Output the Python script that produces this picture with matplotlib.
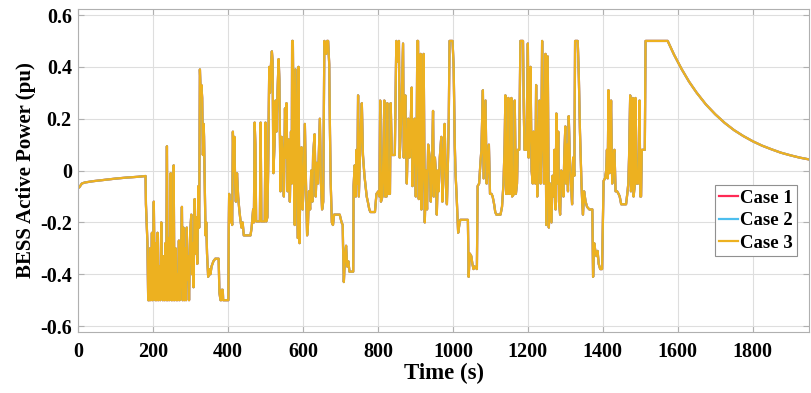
import matplotlib
matplotlib.use("Agg")
import matplotlib.pyplot as plt

# --------------------------------------------------
# Data (time in s, power in pu)
# --------------------------------------------------

# pre-event ramp
t_ramp = [0, 4, 10, 18, 40, 70, 100, 130, 160, 180]
p_ramp = [-0.068, -0.063, -0.05, -0.046, -0.041, -0.036, -0.031, -0.027, -0.024, -0.021]

# first window: battery saturated at the lower limit
t_low = [181, 183, 185, 187, 190, 192, 194, 197, 199, 202, 204, 206, 208, 210, 212, 214,
         217, 219, 222, 224, 226, 228, 230, 233, 235, 237, 239, 241, 243, 245, 247, 249,
         251, 253, 255, 257, 260, 262, 264, 266, 269, 271, 274, 277, 279, 281, 283, 286,
         288, 290, 292, 294, 296, 299, 302, 304, 306, 308, 311, 313, 315, 318, 321, 323,
         325, 327, 329, 331, 333, 335, 336, 338, 340, 342, 344, 347, 350, 353, 356, 361,
         366, 371, 375, 377, 380, 382, 383, 386, 387, 401]
p_low = [-0.13, -0.2, -0.28, -0.5, -0.5, -0.3, -0.5, -0.24, -0.5, -0.12, -0.4, -0.5, -0.28, -0.5, -0.24, -0.5,
         -0.37, -0.5, -0.2, -0.45, -0.5, -0.33, -0.5, -0.28, -0.5, 0.094, -0.5, -0.26, -0.5, -0.3, -0.01, -0.5,
         -0.34, -0.5, 0.02, -0.5, -0.3, -0.5, -0.4, -0.5, -0.27, -0.5, -0.35, -0.14, -0.5, -0.22, -0.5, -0.3,
         -0.5, -0.22, -0.42, -0.33, -0.5, -0.24, -0.17, -0.4, -0.28, -0.45, -0.11, -0.32, -0.18, -0.36, -0.06, -0.22,
         0.39, 0.3, 0.33, 0.28, 0.06, 0.18, 0.13, -0.05, -0.25, -0.2, -0.32, -0.41, -0.38, -0.4, -0.37, -0.35,
         -0.34, -0.34, -0.34, -0.47, -0.5, -0.5, -0.46, -0.46, -0.5, -0.5]

# fluctuating period
t_var = [402, 403, 405, 408, 411, 413, 415, 417, 419, 421, 424, 427, 430, 433, 436, 439,
         442, 460, 463, 467, 469, 471, 473, 475, 485, 487, 489, 498, 500, 502, 505, 507,
         510, 512, 515, 517, 519, 521, 524, 527, 529, 532, 535, 537, 540, 543, 546, 549,
         552, 554, 556, 559, 562, 565, 568, 570, 571, 573, 575, 578, 580, 583, 586, 588,
         591, 593, 596, 599, 602, 605, 608, 611, 613, 616, 619, 622, 625, 627, 631, 634,
         637, 640, 645, 648, 651, 654, 657, 662, 664, 667, 670, 672, 674, 677, 680, 683,
         698, 703, 706, 707, 709, 712, 715, 718, 721, 724, 734, 735, 738, 741, 743, 745,
         747, 749, 752, 755, 757, 760, 764, 767, 770, 773, 777, 780, 792, 796, 801, 804,
         806, 808, 812, 815, 817, 819, 823, 825, 827, 832, 834, 837, 845, 849, 852, 856,
         858, 862, 867, 869, 873, 875, 877, 881, 884, 886, 890, 892, 895, 898, 901, 903,
         905, 907, 909, 912, 914, 916, 919, 922, 925, 928, 931, 934, 938, 941, 944, 947,
         949, 952, 955, 957, 960, 962, 965, 969, 972, 975, 978, 981, 984, 987, 989, 991,
         999, 1002, 1005, 1007, 1010, 1014, 1018, 1020, 1040, 1042, 1045, 1049, 1052, 1055, 1058, 1064,
         1066, 1070, 1073, 1076, 1080, 1082, 1085, 1087, 1090, 1093, 1096, 1099, 1103, 1106, 1110, 1113,
         1116, 1127, 1131, 1135, 1138, 1140, 1142, 1145, 1148, 1150, 1154, 1156, 1158, 1163, 1165, 1168,
         1171, 1173, 1177, 1180, 1187, 1189, 1191, 1196, 1200, 1202, 1205, 1207, 1210, 1213, 1215, 1218,
         1220, 1222, 1225, 1228, 1231, 1234, 1236, 1238, 1240, 1243, 1245, 1247, 1249, 1251, 1253, 1256,
         1259, 1263, 1266, 1269, 1271, 1274, 1276, 1279, 1281, 1283, 1286, 1289, 1292, 1295, 1297, 1300,
         1302, 1305, 1307, 1309, 1312, 1315, 1318, 1321, 1324, 1326, 1333, 1336, 1339, 1343, 1345, 1347,
         1350, 1354, 1358, 1364, 1372, 1374, 1377, 1380, 1383, 1386, 1389, 1393, 1398, 1402, 1406, 1409,
         1411, 1413, 1415, 1418, 1420, 1422, 1425, 1428, 1431, 1434, 1438, 1442, 1445, 1449, 1462, 1466,
         1468, 1470, 1473, 1475, 1478, 1480, 1482, 1485, 1487, 1489, 1494, 1498, 1500, 1502, 1504, 1512]
p_var = [-0.22, -0.09, -0.2, -0.12, -0.21, 0.15, 0.0, 0.13, -0.05, -0.12, -0.01, -0.1, -0.15, -0.19, -0.22, -0.2,
         -0.25, -0.25, -0.22, -0.15, -0.2, 0.185, 0.1, -0.196, -0.196, 0.185, -0.196, -0.196, 0.185, -0.196, -0.18, 0.0,
         0.4, 0.3, 0.42, 0.46, 0.42, -0.01, 0.1, 0.27, 0.15, 0.3, 0.43, 0.35, -0.08, 0.13, 0.05, -0.1,
         0.24, 0.05, 0.26, -0.08, 0.12, -0.12, 0.15, -0.05, 0.5, 0.5, 0.1, -0.21, 0.39, 0.05, -0.26, 0.4,
         -0.28, 0.0, 0.09, -0.15, -0.05, 0.18, -0.05, -0.25, -0.22, -0.08, -0.15, 0.0, -0.12, 0.06, 0.14, -0.1,
         0.03, -0.05, 0.2, -0.05, -0.15, -0.12, 0.5, 0.45, 0.5, 0.5, 0.41, 0.15, -0.05, -0.2, -0.21, -0.17,
         -0.17, -0.2, -0.21, -0.3, -0.43, -0.33, -0.29, -0.37, -0.35, -0.39, -0.39, -0.06, 0.02, -0.1, 0.08, -0.05,
         0.29, -0.1, 0.05, 0.2, 0.26, 0.06, -0.02, -0.06, -0.1, -0.12, -0.15, -0.16, -0.16, -0.09, -0.08, -0.1,
         0.27, -0.12, -0.1, 0.1, 0.27, -0.1, -0.1, 0.26, -0.09, -0.09, 0.26, 0.06, 0.06, 0.5, 0.42, 0.5,
         0.05, 0.2, 0.49, 0.05, 0.29, 0.1, -0.05, 0.2, 0.05, 0.1, 0.32, -0.06, 0.1, 0.2, -0.1, 0.05,
         0.5, 0.5, -0.11, 0.1, 0.45, -0.15, 0.0, 0.45, -0.2, 0.0, -0.15, 0.1, 0.05, -0.12, 0.0, 0.23,
         -0.1, 0.05, -0.02, -0.17, 0.0, -0.08, 0.05, 0.13, -0.12, 0.05, 0.18, -0.05, -0.13, 0.05, 0.2, 0.5,
         0.5, 0.4, 0.1, -0.01, -0.1, -0.24, -0.2, -0.19, -0.19, -0.41, -0.32, -0.33, -0.36, -0.38, -0.37, -0.38,
         -0.06, -0.05, 0.02, 0.08, 0.31, -0.03, 0.15, 0.27, -0.05, 0.02, 0.1, -0.09, -0.09, -0.1, -0.13, -0.16,
         -0.17, -0.17, -0.14, -0.05, 0.1, 0.29, -0.09, -0.09, 0.28, -0.09, -0.09, 0.28, -0.1, -0.09, 0.27, -0.09,
         -0.05, 0.08, 0.08, 0.5, 0.5, 0.25, 0.08, 0.08, 0.49, 0.05, 0.2, 0.4, 0.0, -0.05, 0.15, 0.13,
         -0.05, 0.33, -0.1, 0.1, 0.27, -0.05, 0.1, 0.5, 0.25, -0.05, 0.2, 0.45, -0.21, 0.1, 0.44, -0.22,
         -0.05, -0.2, -0.02, -0.1, 0.08, -0.15, 0.22, -0.05, 0.15, -0.12, -0.17, 0.0, -0.03, -0.1, 0.05, 0.17,
         -0.05, 0.1, -0.08, 0.21, 0.05, -0.05, -0.13, 0.05, -0.02, 0.5, 0.5, 0.36, 0.15, -0.05, -0.12, -0.17,
         -0.08, -0.12, -0.14, -0.15, -0.15, -0.41, -0.28, -0.31, -0.33, -0.31, -0.36, -0.38, -0.38, -0.04, -0.03, 0.0,
         0.08, -0.03, 0.31, -0.01, 0.12, 0.27, -0.05, 0.05, 0.08, -0.08, -0.08, -0.09, -0.1, -0.13, -0.13, -0.08,
         -0.05, 0.05, 0.29, -0.08, -0.05, 0.28, -0.1, -0.06, 0.28, -0.05, -0.05, 0.27, -0.1, -0.1, 0.08, 0.08]

# upper limit and recovery
t_rec = [1514, 1573, 1590, 1610, 1630, 1650, 1675, 1700, 1725, 1750, 1775, 1800, 1825, 1850, 1875, 1900, 1925, 1950]
p_rec = [0.5, 0.5, 0.447, 0.392, 0.343, 0.301, 0.255, 0.217, 0.184, 0.156, 0.133, 0.113, 0.096, 0.082, 0.069, 0.059, 0.05, 0.043]

case_labels = ["Case 1", "Case 2", "Case 3"]
case_colors = ["#FF2A55", "#4DBEEE", "#EDB120"]


# --------------------------------------------------
# MAIN
# --------------------------------------------------

def main():

    plt.rcParams["font.family"] = ["Liberation Serif", "DejaVu Serif"]
    plt.rcParams["font.weight"] = "bold"
    plt.rcParams["axes.unicode_minus"] = False

    time_s = t_ramp + t_low + t_var + t_rec
    power = p_ramp + p_low + p_var + p_rec

    fig = plt.figure(figsize=(8.11, 3.93), dpi=100)
    ax = fig.add_axes([0.0963, 0.155, 0.9012, 0.822])

    # the three cases overlap, case 3 is drawn on top
    for label, color in zip(case_labels, case_colors):
        ax.plot(time_s, power, color=color, linewidth=1.6, label=label)

    ax.set_xlim(0, 1950)
    ax.set_ylim(-0.623, 0.623)
    ax.set_xticks(range(0, 1801, 200))
    ax.set_yticks([-0.6, -0.4, -0.2, 0, 0.2, 0.4, 0.6])
    ax.set_yticklabels(["-0.6", "-0.4", "-0.2", "0", "0.2", "0.4", "0.6"])

    ax.grid(True, color="#dedede", linewidth=0.8)
    ax.set_axisbelow(True)
    for s in ax.spines.values():
        s.set_color("#b0b0b0")
        s.set_linewidth(0.8)
    ax.tick_params(direction="in", length=4, color="#b0b0b0",
                   top=True, right=True, labelsize=14.5)
    ax.tick_params(axis="x", pad=7)
    ax.tick_params(axis="y", pad=4.5)

    ax.set_xlabel("Time (s)", fontsize=16.5, fontweight="bold", labelpad=1)
    ax.set_ylabel("BESS Active Power (pu)", fontsize=15, fontweight="bold", labelpad=3)

    leg = ax.legend(loc="upper right", bbox_to_anchor=(0.984, 0.455), fontsize=13.5,
                    handlelength=1.0, handletextpad=0.1, borderpad=0.25,
                    labelspacing=0.28, fancybox=False, framealpha=1, borderaxespad=0)
    leg.get_frame().set_edgecolor("#909090")
    leg.get_frame().set_linewidth(0.8)

    plt.savefig("out.png", dpi=100)


if __name__ == "__main__":
    main()
